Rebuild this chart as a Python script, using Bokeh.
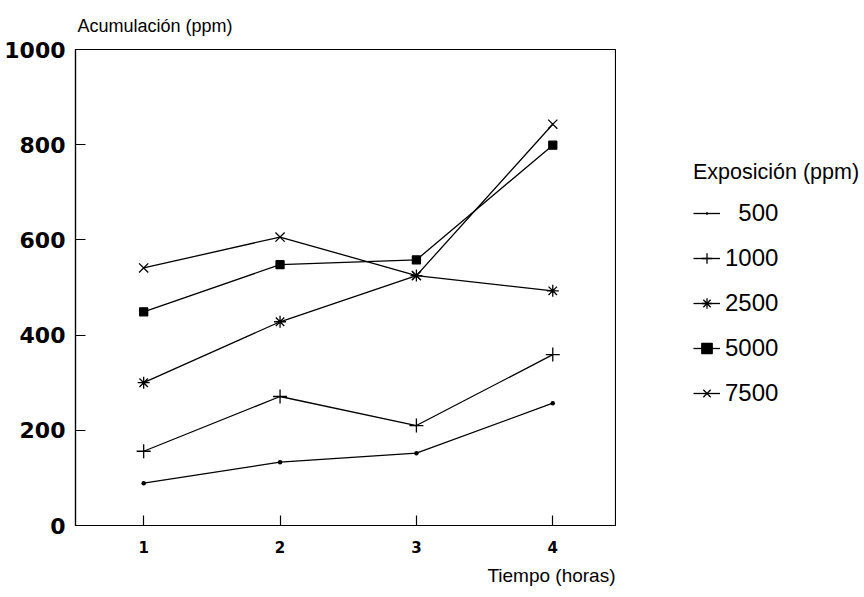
from bokeh.plotting import figure
from bokeh.layouts import row
from bokeh.models import Legend, LegendItem, Title, FixedTicker, Range1d
from bokeh.embed import file_html
from bokeh.resources import INLINE

# ---- data ----
hours = [1, 2, 3, 4]
exp_500 = [89, 133, 152, 257]
exp_1000 = [156, 271, 210, 359]
exp_2500 = [300, 428, 525, 493]
exp_5000 = [449, 548, 558, 799]
exp_7500 = [541, 606, 525, 843]
series_labels = ["\u2007500", "1000", "2500", "5000", "7500"]
y_ticks = [0, 200, 400, 600, 800, 1000]
x_ticks = [1, 2, 3, 4]

y_title = "Acumulación (ppm)"
x_title = "Tiempo (horas)"
legend_title = "Exposición (ppm)"

TXT_FONT = "Liberation Sans"
TICK_FONT = "DejaVu Sans"

p = figure(width=616, height=597,
           x_range=Range1d(0.5, 4.46), y_range=Range1d(0, 1000),
           output_backend="svg", toolbar_location=None,
           min_border_left=75, min_border_right=1,
           min_border_top=49, min_border_bottom=72)

p.background_fill_color = "white"
p.border_fill_color = "white"
p.outline_line_color = "black"
p.outline_line_width = 1.2
p.xgrid.visible = False
p.ygrid.visible = False

# title (y-axis caption on top-left)
p.title.text = y_title
p.title.align = "left"
p.title.offset = 2
p.title.standoff = 27
p.title.text_font = TXT_FONT
p.title.text_font_size = "18px"
p.title.text_font_style = "normal"
p.title.text_color = "black"

# axes
for ax in (p.xaxis[0], p.yaxis[0]):
    ax.axis_line_color = "black"
    ax.axis_line_width = 1.2
    ax.major_tick_line_color = "black"
    ax.major_tick_line_width = 1.2
    ax.major_tick_in = 10
    ax.major_tick_out = 0
    ax.minor_tick_line_color = None
    ax.major_label_text_font = TICK_FONT
    ax.major_label_text_font_style = "bold"
    ax.major_label_text_color = "black"

p.yaxis.ticker = FixedTicker(ticks=y_ticks)
p.yaxis.major_label_text_font_size = "22px"
p.yaxis.major_label_standoff = 10
p.xaxis.ticker = FixedTicker(ticks=x_ticks)
p.xaxis.major_label_text_font_size = "15px"
p.xaxis.major_label_standoff = 15

p.add_layout(Title(text=x_title, align="right", text_font=TXT_FONT,
                   text_font_size="19px", text_font_style="normal",
                   text_color="black", standoff=15), "below")

# series
series = [exp_500, exp_1000, exp_2500, exp_5000, exp_7500]
markers = ["dot", "cross", "asterisk", "square", "x"]
sizes = [18, 14, 12, 8, 13]
for vals, mk, sz in zip(series, markers, sizes):
    p.line(hours, vals, line_color="black", line_width=1.3)
    p.scatter(hours, vals, marker=mk, size=sz, line_color="black",
              fill_color="black", line_width=1.3)

# legend panel (separate figure, renderers hidden - only the key is shown)
p2 = figure(width=248, height=597, output_backend="svg", toolbar_location=None,
            x_range=Range1d(0, 1), y_range=Range1d(0, 1), min_border=0)
p2.axis.visible = False
p2.grid.visible = False
p2.outline_line_color = None
p2.background_fill_color = "white"
p2.border_fill_color = "white"

items = []
for vals, mk, lab in zip(series, markers, series_labels):
    rl = p2.line(hours, vals, line_color="black", line_width=1.3, visible=False)
    rm = p2.scatter(hours, vals, marker=mk, line_color="black",
                    fill_color="black", line_width=1.3, visible=False)
    items.append(LegendItem(label=lab, renderers=[rl, rm]))

legend = Legend(items=items, location=(77, 118), title=legend_title,
                title_text_font=TXT_FONT, title_text_font_size="21.5px",
                title_text_font_style="normal", title_text_color="black",
                title_standoff=14,
                label_text_font=TXT_FONT, label_text_font_size="24px",
                label_text_color="black",
                glyph_width=27, glyph_height=26, label_height=26,
                label_standoff=5, spacing=17, padding=0, margin=0,
                inactive_fill_alpha=0,
                border_line_color=None, background_fill_alpha=0)
p2.add_layout(legend)

open("out.html", "w").write(file_html(row(p, p2), INLINE))
